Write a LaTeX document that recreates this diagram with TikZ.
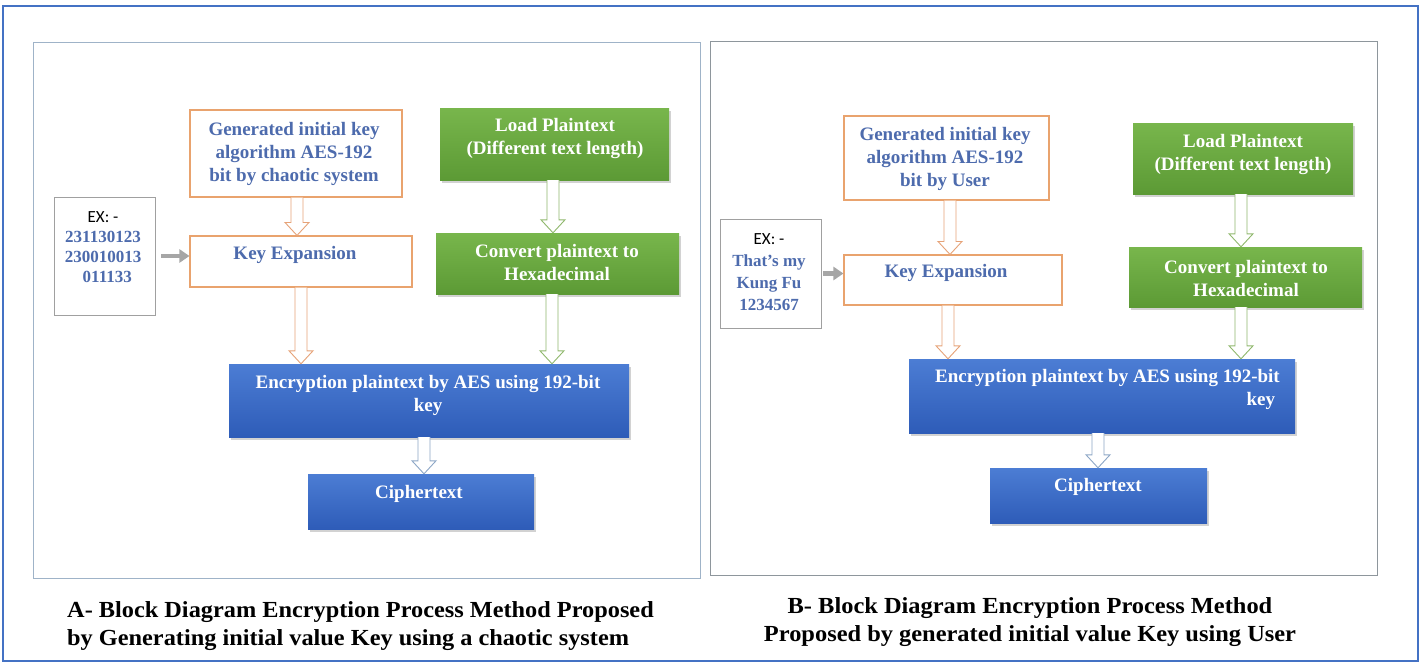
\documentclass[tikz,border=0pt]{standalone}
\usepackage{fontspec}
\setmainfont{Liberation Serif}
\newfontfamily\calib{Carlito}
\usetikzlibrary{calc,shadows,arrows.meta}
\definecolor{frameblue}{HTML}{4472C4}
\definecolor{panelA}{HTML}{9FB3C8}
\definecolor{panelB}{HTML}{8E969C}
\definecolor{orangeb}{HTML}{E9A36E}
\definecolor{txtblue}{HTML}{4D6BAD}
\definecolor{greentop}{HTML}{78B64C}
\definecolor{greenbot}{HTML}{5C9A35}
\definecolor{bluetop}{HTML}{4C7DD4}
\definecolor{bluebot}{HTML}{2E5CB8}
\definecolor{greenarr}{HTML}{8FB86C}
\definecolor{orangearr}{HTML}{E6A277}
\definecolor{bluearr}{HTML}{8CA6C6}
\definecolor{greyarr}{HTML}{A6A6A6}
\definecolor{exborder}{HTML}{A0A0A0}
\tikzset{
  obox/.style={draw=orangeb, line width=1.1pt, fill=white, inner sep=0pt},
  gbox/.style={top color=greentop, bottom color=greenbot, draw=none, inner sep=0pt,
    drop shadow={opacity=0.35, shadow xshift=1.5pt, shadow yshift=-2.5pt}},
  bbox/.style={top color=bluetop, bottom color=bluebot, draw=none, inner sep=0pt,
    drop shadow={opacity=0.35, shadow xshift=1.5pt, shadow yshift=-2.5pt}},
  exbox/.style={draw=exborder, line width=0.9pt, fill=white, inner sep=0pt},
  otxt/.style={text=txtblue, font=\bfseries\fontsize{19}{23}\selectfont, align=center, inner sep=0pt},
  wtxt/.style={text=white, font=\bfseries\fontsize{19}{23}\selectfont, align=center, inner sep=0pt},
  extxt/.style={text=txtblue, font=\bfseries\fontsize{17}{20}\selectfont, align=center, inner sep=0pt},
  captxt/.style={text=black, font=\bfseries\fontsize{23}{28}\selectfont, inner sep=0pt},
  harr/.style={line width=0.9pt, fill=white, line join=miter},
  garr/.style={draw=greyarr, line width=4.5pt, -{Triangle[length=10pt,width=13pt]}},
}
\newcommand{\hollowarrow}[3]{%
  \draw[harr, draw=#1] let \p1=#2, \p2=#3 in
    (\x1-6pt,\y1) -- (\x1-6pt,\y2+13pt) -- (\x1-12pt,\y2+13pt) -- (\x1,\y2)
    -- (\x1+12pt,\y2+13pt) -- (\x1+6pt,\y2+13pt) -- (\x1+6pt,\y1);}
\begin{document}
\begin{tikzpicture}[x=1pt,y=-1pt]
\useasboundingbox (0,0) rectangle (1422,664);
\fill[white] (0,0) rectangle (1422,664);
\draw[frameblue, line width=2pt] (3,6) rectangle (1418,661);
% panels
\draw[panelA, line width=1pt] (33,42) rectangle (700,578);
\draw[panelB, line width=1pt] (710,41) rectangle (1377,575);

% ---------- Panel A ----------
\node[obox, minimum width=212, minimum height=87] (genA) at (296,153.5) {};
\node[otxt] (genAt) at (294,153.5) {Generated initial key\\algorithm AES-192\\bit by chaotic system};
\node[gbox, minimum width=229, minimum height=72] (loadA) at (554.5,144) {};
\node[wtxt] (loadAt) at (555,138.5) {Load Plaintext\\(Different text length)};
\node[gbox, minimum width=243, minimum height=61] (convA) at (557.5,263.5) {};
\node[wtxt] (convAt) at (557,262) {Convert plaintext to\\Hexadecimal};
\node[exbox, minimum width=101, minimum height=118] (exA) at (104.5,256) {};
\node[extxt] (exAt) at (103,247.5) {{\calib\mdseries\color{black}EX: -}\\231130123\\230010013\\\ \ 011133};
\node[obox, minimum width=222, minimum height=51] (keA) at (301,261.5) {};
\node[otxt] (keAt) at (295,255) {Key Expansion};
\node[bbox, minimum width=400, minimum height=73] (encA) at (429,400.5) {};
\node[wtxt] (encAt) at (428,395) {Encryption plaintext by AES using 192-bit\\key};
\node[bbox, minimum width=226, minimum height=55] (ciA) at (421,501.5) {};
\node[wtxt] (ciAt) at (419,494) {Ciphertext};

\draw[garr, shorten <=6pt] (exA.east) -- (exA.east -| keA.west);
\hollowarrow{orangearr}{([xshift=1pt]genA.south)}{(keA.north)}
\hollowarrow{orangearr}{(keA.south)}{(encA.north)}
\hollowarrow{greenarr}{([xshift=-1.5pt]loadA.south)}{(convA.north)}
\hollowarrow{greenarr}{([xshift=-5.5pt]convA.south)}{(encA.north)}
\hollowarrow{bluearr}{([xshift=-5pt]encA.south)}{(ciA.north)}

\node[captxt, anchor=west, align=left] (capA) at (67,626)
  {\scalebox{1.057}[1]{A- Block Diagram Encryption Process Method Proposed}\\
   \scalebox{1.057}[1]{by Generating initial value Key using a chaotic system}};

% ---------- Panel B ----------
\node[obox, minimum width=205, minimum height=84] (genB) at (946.5,158) {};
\node[otxt] (genBt) at (945,158.5) {Generated initial key\\algorithm AES-192\\bit by User};
\node[gbox, minimum width=220, minimum height=71] (loadB) at (1243,158.5) {};
\node[wtxt] (loadBt) at (1243,154.5) {Load Plaintext\\(Different text length)};
\node[gbox, minimum width=233, minimum height=60] (convB) at (1245.5,277) {};
\node[wtxt] (convBt) at (1246,278) {Convert plaintext to\\Hexadecimal};
\node[exbox, minimum width=101, minimum height=109] (exB) at (770.5,273.5) {};
\node[extxt, font=\bfseries\fontsize{17}{22}\selectfont] (exBt) at (769,272) {{\calib\mdseries\color{black}EX: -}\\That's my\\Kung Fu\\1234567};
\node[obox, minimum width=218, minimum height=50] (keB) at (953,280) {};
\node[otxt] (keBt) at (946,273) {Key Expansion};
\node[bbox, minimum width=386, minimum height=74] (encB) at (1102,396) {};
\node[wtxt, anchor=east, align=right] (encBt) at (1280,389.5) {Encryption plaintext by AES using 192-bit\\key\ \ };
\node[bbox, minimum width=217, minimum height=55] (ciB) at (1098.5,495.5) {};
\node[wtxt] (ciBt) at (1098,487) {Ciphertext};

\draw[garr, shorten <=2pt] (exB.east) -- (exB.east -| keB.west);
\hollowarrow{orangearr}{([xshift=3.5pt]genB.south)}{(keB.north)}
\hollowarrow{orangearr}{([xshift=-5pt]keB.south)}{(encB.north)}
\hollowarrow{greenarr}{([xshift=-2pt]loadB.south)}{(convB.north)}
\hollowarrow{greenarr}{([xshift=-4.5pt]convB.south)}{(encB.north)}
\hollowarrow{bluearr}{([xshift=-4pt]encB.south)}{(ciB.north)}

\node[captxt, align=center] (capB) at (1030,622)
  {\scalebox{1.062}[1]{B- Block Diagram Encryption Process Method}\\
   \scalebox{1.062}[1]{Proposed by generated initial value Key using User}};
\end{tikzpicture}
\end{document}
